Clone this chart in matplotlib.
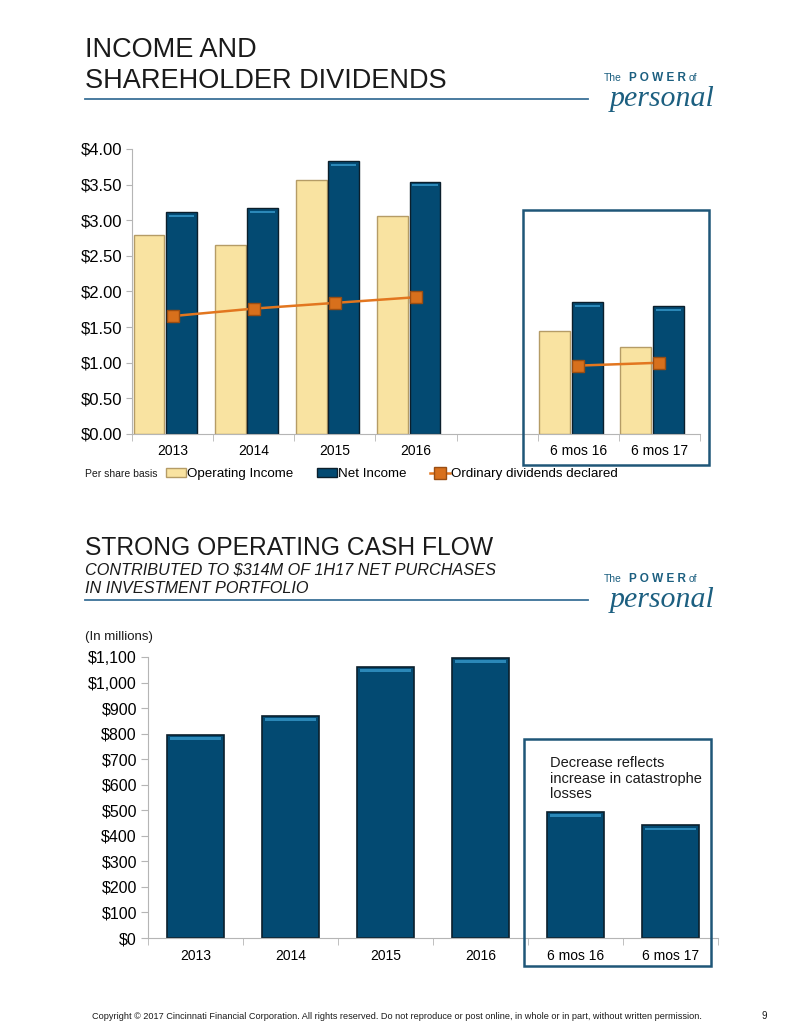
import numpy as np
import matplotlib
matplotlib.use('Agg')
import matplotlib.pyplot as plt
from matplotlib.patches import Rectangle
from matplotlib.lines import Line2D
from matplotlib.patches import Patch

plt.rcParams['font.family'] = ['Liberation Sans', 'DejaVu Sans']

# per share data (top chart)
periods = ['2013', '2014', '2015', '2016', '', '6 mos 16', '6 mos 17']
operating_income = [2.79, 2.65, 3.56, 3.06, np.nan, 1.45, 1.22]
net_income = [3.11, 3.17, 3.83, 3.54, np.nan, 1.85, 1.79]
dividends = [1.655, 1.76, 1.84, 1.92, np.nan, 0.96, 1.00]

# operating cash flow, millions (bottom chart)
cf_periods = ['2013', '2014', '2015', '2016', '6 mos 16', '6 mos 17']
cash_flow = [795, 870, 1062, 1098, 494, 441]

W, H = 799, 1034
fig = plt.figure(figsize=(W / 100, H / 100), dpi=100)

def fx(px):
    return px / W

def fy(px):
    return 1 - px / H

dark = '#1a1a1a'
rule_col = '#3a7197'
box_col = '#1f5678'
logo_col = '#1c5f80'
yellow = '#f9e3a1'
yellow_edge = '#b59c66'
navy = '#034a72'
navy_edge = '#0b1f2c'
shine = '#2b88b8'
orange = '#e2761f'
grey = '#b5b5b5'


def logo(base):
    fig.text(fx(604), fy(base), 'The', fontsize=7.5, color=logo_col, va='baseline')
    fig.text(fx(629), fy(base), 'P O W E R', fontsize=8.5, fontweight='bold', color=logo_col, va='baseline')
    fig.text(fx(689), fy(base), 'of', fontsize=7.5, color=logo_col, va='baseline')
    fig.text(fx(610), fy(base + 25), 'personal', fontsize=21.5, style='italic',
             family=['Liberation Serif', 'DejaVu Serif'], color=logo_col, va='baseline')


def rule(y):
    fig.add_artist(Line2D([fx(85), fx(588)], [fy(y), fy(y)], color=rule_col, lw=1.3))


# section headers
fig.text(fx(85), fy(57), 'INCOME AND', fontsize=19.5, color=dark, va='baseline')
fig.text(fx(85), fy(88), 'SHAREHOLDER DIVIDENDS', fontsize=19.5, color=dark, va='baseline')
rule(99)
logo(81)

fig.text(fx(85), fy(555), 'STRONG OPERATING CASH FLOW', fontsize=17.7, color=dark, va='baseline')
fig.text(fx(85), fy(575), 'CONTRIBUTED TO $314M OF 1H17 NET PURCHASES', fontsize=11.7,
         style='italic', color=dark, va='baseline')
fig.text(fx(85), fy(593), 'IN INVESTMENT PORTFOLIO', fontsize=11.7,
         style='italic', color=dark, va='baseline')
rule(600)
logo(582)

# ---------- top chart ----------
ax1 = fig.add_axes([fx(132), fy(434), fx(700) - fx(132), fy(149) - fy(434)])
x = np.arange(len(periods))
bw = 0.38
ax1.bar(x - 0.29, operating_income, bw, color=yellow, edgecolor=yellow_edge, linewidth=1, zorder=2)
ax1.bar(x + 0.11, net_income, bw, color=navy, edgecolor=navy_edge, linewidth=1, zorder=2)
ax1.bar(x + 0.11, 0.03, bw * 0.82, bottom=np.array(net_income) - 0.065,
        color=shine, linewidth=0, zorder=2.5)
ax1.plot(x, dividends, color=orange, lw=1.8, marker='s', markersize=9,
         markerfacecolor='#d8701c', markeredgecolor='#9a4d12', zorder=3)

ax1.set_xlim(-0.5, len(periods) - 0.5)
ax1.set_ylim(0, 4)
ax1.set_yticks(np.arange(0, 4.01, 0.5))
ax1.set_yticklabels(['$%.2f' % v for v in np.arange(0, 4.01, 0.5)], fontsize=12)
ax1.set_xticks(x)
ax1.set_xticklabels(periods, fontsize=10)
ax1.set_xticks(np.arange(-0.5, len(periods), 1), minor=True)
ax1.tick_params(axis='x', which='major', length=0, pad=7)
ax1.tick_params(axis='x', which='minor', length=5, color=grey)
ax1.tick_params(axis='y', length=4, color=grey, pad=3)
for s in ['top', 'right']:
    ax1.spines[s].set_visible(False)
for s in ['left', 'bottom']:
    ax1.spines[s].set_color(grey)

fig.text(fx(85), fy(474), 'Per share basis', fontsize=7.5, color=dark, va='center')
handles = [Patch(facecolor=yellow, edgecolor=yellow_edge),
           Patch(facecolor=navy, edgecolor=navy_edge),
           Line2D([], [], color=orange, lw=1.8, marker='s', markersize=8,
                  markerfacecolor='#d8701c', markeredgecolor='#9a4d12')]
fig.legend(handles, ['Operating Income', 'Net Income', 'Ordinary dividends declared'],
           loc='center left', bbox_to_anchor=(fx(166), fy(474)), ncol=3, frameon=False,
           fontsize=9.6, handlelength=1.5, handleheight=0.6, handletextpad=0.05,
           columnspacing=1.8, borderpad=0, borderaxespad=0)

fig.add_artist(Rectangle((fx(523), fy(465)), fx(709) - fx(523), fy(210) - fy(465),
                         fill=False, edgecolor=box_col, lw=1.8))

# ---------- bottom chart ----------
ax2 = fig.add_axes([fx(148), fy(938), fx(718) - fx(148), fy(657) - fy(938)])
x2 = np.arange(len(cf_periods))
ax2.bar(x2, cash_flow, 0.59, color=navy, edgecolor=navy_edge, linewidth=1.2, zorder=2)
ax2.bar(x2, 10, 0.59 * 0.9, bottom=np.array(cash_flow) - 20,
        color=shine, linewidth=0, zorder=2.5)
ax2.set_xlim(-0.5, len(cf_periods) - 0.5)
ax2.set_ylim(0, 1100)
yt = np.arange(0, 1101, 100)
ax2.set_yticks(yt)
ax2.set_yticklabels(['${:,.0f}'.format(v) for v in yt], fontsize=11.5)
ax2.set_xticks(x2)
ax2.set_xticklabels(cf_periods, fontsize=10)
ax2.set_xticks(np.arange(-0.5, len(cf_periods), 1), minor=True)
ax2.tick_params(axis='x', which='major', length=0, pad=8)
ax2.tick_params(axis='x', which='minor', length=5, color=grey)
ax2.tick_params(axis='y', length=5, color=grey, pad=3)
for s in ['top', 'right']:
    ax2.spines[s].set_visible(False)
for s in ['left', 'bottom']:
    ax2.spines[s].set_color(grey)

fig.text(fx(85), fy(640), '(In millions)', fontsize=9.5, color=dark, va='baseline')

fig.add_artist(Rectangle((fx(524), fy(966)), fx(711) - fx(524), fy(739) - fy(966),
                         fill=False, edgecolor=box_col, lw=1.8))
fig.text(fx(550), fy(756), 'Decrease reflects\nincrease in catastrophe\nlosses',
         fontsize=10.5, color=dark, va='top', linespacing=1.15)

# footer
fig.text(fx(92), fy(1019), 'Copyright \u00a9 2017 Cincinnati Financial Corporation. All rights reserved. '
         'Do not reproduce or post online, in whole or in part, without written permission.',
         fontsize=6.6, color=dark, va='baseline')
fig.text(fx(761), fy(1019), '9', fontsize=7, color=dark, va='baseline')

fig.savefig('out.png', dpi=100)
